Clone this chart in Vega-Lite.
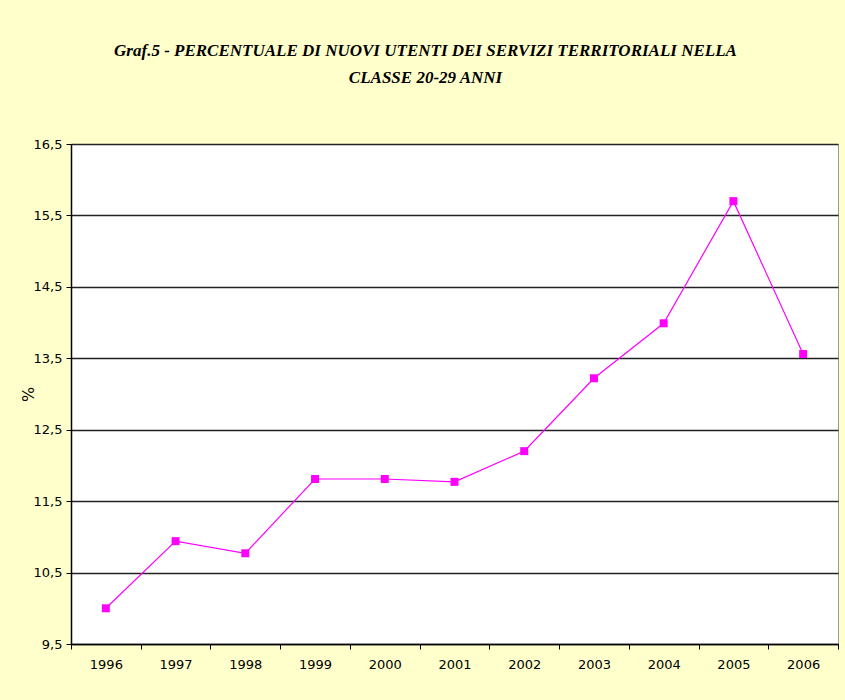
{
  "$schema": "https://vega.github.io/schema/vega-lite/v6.json",
  "width": 767,
  "height": 500,
  "autosize": {"type": "none"},
  "padding": {"left": 71, "top": 144, "right": 7, "bottom": 56},
  "background": "#FFFFCC",
  "title": {
    "text": ["Graf.5 - PERCENTUALE DI NUOVI UTENTI DEI SERVIZI TERRITORIALI NELLA", "CLASSE 20-29 ANNI"],
    "font": "Liberation Serif",
    "fontStyle": "italic",
    "fontWeight": "bold",
    "fontSize": 17,
    "lineHeight": 27,
    "color": "#000000",
    "anchor": "middle",
    "dx": -29,
    "offset": 51
  },
  "data": {
    "values": [
      {"year": "1996", "value": 10.0},
      {"year": "1997", "value": 10.94},
      {"year": "1998", "value": 10.77},
      {"year": "1999", "value": 11.81},
      {"year": "2000", "value": 11.81},
      {"year": "2001", "value": 11.77},
      {"year": "2002", "value": 12.2},
      {"year": "2003", "value": 13.22},
      {"year": "2004", "value": 13.99},
      {"year": "2005", "value": 15.7},
      {"year": "2006", "value": 13.56}
    ]
  },
  "encoding": {
    "x": {
      "field": "year",
      "type": "ordinal",
      "scale": {"type": "band", "paddingInner": 0, "paddingOuter": 0},
      "axis": {
        "title": null,
        "labelAngle": 0,
        "tickBand": "extent",
        "labelFont": "DejaVu Sans",
        "labelFontSize": 13,
        "labelColor": "#000000",
        "labelPadding": 9,
        "tickSize": 5,
        "tickColor": "#000000",
        "domainColor": "#000000",
        "domainWidth": 1.5,
        "grid": false
      }
    },
    "y": {
      "field": "value",
      "type": "quantitative",
      "scale": {"domain": [9.5, 16.5], "nice": false, "zero": false},
      "axis": {
        "title": "%",
        "titleFont": "DejaVu Sans",
        "titleFontSize": 16,
        "titleFontWeight": "normal",
        "titleColor": "#000000",
        "titlePadding": -3,
        "values": [9.5, 10.5, 11.5, 12.5, 13.5, 14.5, 15.5, 16.5],
        "labelExpr": "replace(format(datum.value, '.1f'), '.', ',')",
        "labelFont": "DejaVu Sans",
        "labelFontSize": 13,
        "labelColor": "#000000",
        "labelPadding": 4,
        "tickSize": 5,
        "tickColor": "#000000",
        "domainColor": "#000000",
        "domainWidth": 1.5,
        "grid": true,
        "gridColor": "#222222",
        "gridWidth": 1.5,
        "gridOpacity": 1
      }
    }
  },
  "layer": [
    {"mark": {"type": "line", "color": "#FF00FF", "strokeWidth": 1.2}},
    {"mark": {"type": "point", "shape": "square", "filled": true, "size": 64, "color": "#FF00FF", "opacity": 1}}
  ],
  "config": {
    "view": {"fill": "#FFFFFF", "stroke": "#999999", "strokeWidth": 1}
  }
}
